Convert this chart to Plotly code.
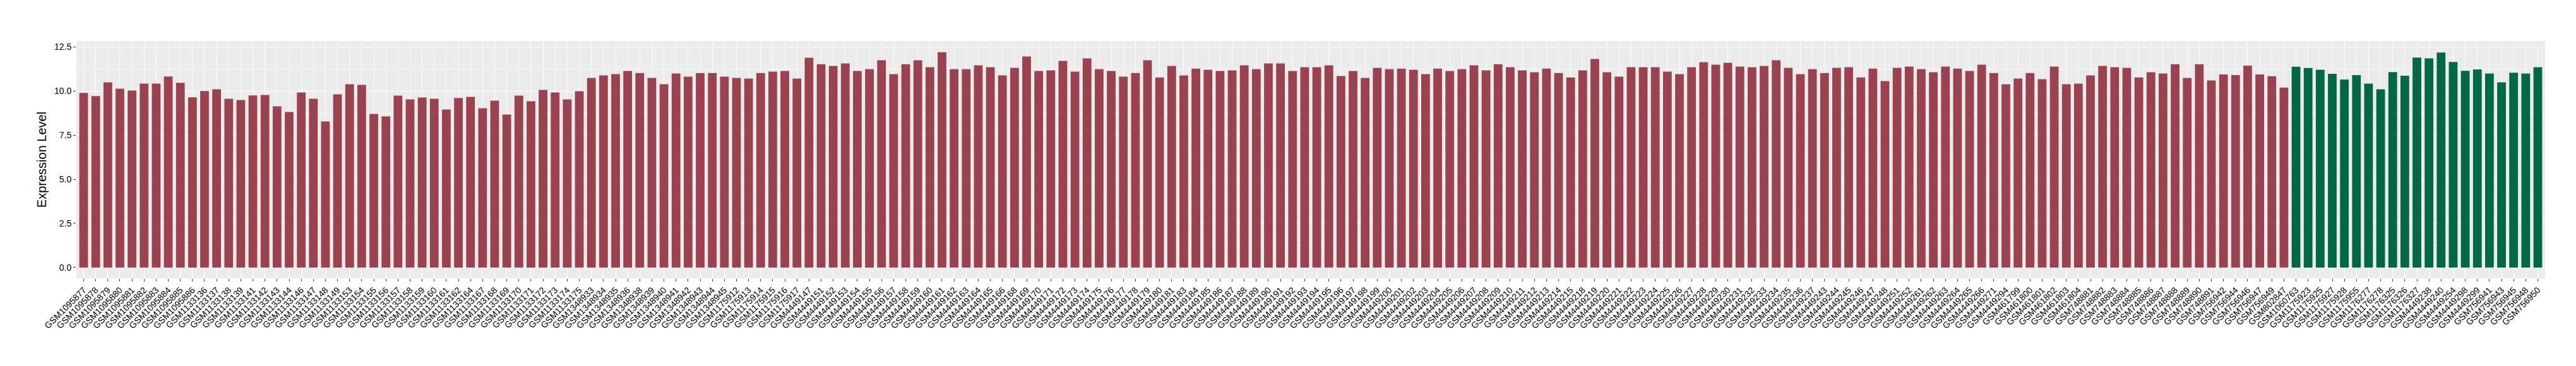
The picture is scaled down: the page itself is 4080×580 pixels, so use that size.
import plotly.graph_objects as go

# ---------------- data ----------------
red_samples = [
    "GSM1095877", "GSM1095878", "GSM1095879", "GSM1095880", "GSM1095881", "GSM1095882", "GSM1095883", "GSM1095884", "GSM1095885", "GSM1095886",
    "GSM1133136", "GSM1133137", "GSM1133138", "GSM1133139", "GSM1133141", "GSM1133142", "GSM1133143", "GSM1133144", "GSM1133146", "GSM1133147",
    "GSM1133148", "GSM1133149", "GSM1133153", "GSM1133154", "GSM1133155", "GSM1133156", "GSM1133157", "GSM1133158", "GSM1133159", "GSM1133160",
    "GSM1133161", "GSM1133162", "GSM1133164", "GSM1133167", "GSM1133168", "GSM1133169", "GSM1133170", "GSM1133171", "GSM1133172", "GSM1133173",
    "GSM1133174", "GSM1133175",
    "GSM1348933", "GSM1348934", "GSM1348935", "GSM1348936", "GSM1348938", "GSM1348939", "GSM1348940", "GSM1348941", "GSM1348942", "GSM1348943",
    "GSM1348944", "GSM1348945",
    "GSM1175912", "GSM1175913", "GSM1175914", "GSM1175915", "GSM1175916", "GSM1175917",
    "GSM4449147", "GSM4449151", "GSM4449152", "GSM4449153",
    "GSM4449154", "GSM4449155", "GSM4449156", "GSM4449157", "GSM4449158", "GSM4449159", "GSM4449160", "GSM4449161", "GSM4449162", "GSM4449163",
    "GSM4449164", "GSM4449165", "GSM4449166",
    "GSM4449168", "GSM4449169", "GSM4449170", "GSM4449171", "GSM4449172", "GSM4449173", "GSM4449174", "GSM4449175", "GSM4449176", "GSM4449177",
    "GSM4449178", "GSM4449179", "GSM4449180", "GSM4449181",
    "GSM4449183", "GSM4449184", "GSM4449185", "GSM4449186", "GSM4449187", "GSM4449188", "GSM4449189", "GSM4449190", "GSM4449191", "GSM4449192",
    "GSM4449193", "GSM4449194", "GSM4449195", "GSM4449196", "GSM4449197", "GSM4449198", "GSM4449199", "GSM4449200", "GSM4449201", "GSM4449202",
    "GSM4449203", "GSM4449204", "GSM4449205",
    "GSM4449206", "GSM4449207", "GSM4449208", "GSM4449209", "GSM4449210", "GSM4449211", "GSM4449212", "GSM4449213", "GSM4449214", "GSM4449215",
    "GSM4449218", "GSM4449219", "GSM4449220", "GSM4449221", "GSM4449222", "GSM4449223", "GSM4449224", "GSM4449225", "GSM4449226", "GSM4449227",
    "GSM4449228", "GSM4449229", "GSM4449230", "GSM4449231", "GSM4449232",
    "GSM4449233", "GSM4449234", "GSM4449235", "GSM4449236", "GSM4449237",
    "GSM4449243", "GSM4449244", "GSM4449245", "GSM4449246", "GSM4449247", "GSM4449248", "GSM4449251", "GSM4449252", "GSM4449261", "GSM4449262",
    "GSM4449263", "GSM4449264", "GSM4449265", "GSM4449266", "GSM4449271", "GSM4449294",
    "GSM461799", "GSM461800", "GSM461801", "GSM461802", "GSM461803", "GSM461804",
    "GSM748881", "GSM748882", "GSM748883", "GSM748884", "GSM748885", "GSM748886", "GSM748887", "GSM748888", "GSM748889", "GSM748890",
    "GSM748891",
    "GSM756942", "GSM756944", "GSM756946", "GSM756947", "GSM756949",
    "GSM802847",
]

red_values = [
    9.89, 9.71, 10.49, 10.13, 10.02, 10.42, 10.42, 10.82, 10.46, 9.64,
    10.00, 10.10, 9.56, 9.49, 9.75, 9.77, 9.13, 8.81, 9.92, 9.56,
    8.27, 9.81, 10.38, 10.35, 8.70, 8.56, 9.74, 9.52, 9.63, 9.56,
    8.95, 9.60, 9.67, 9.02, 9.45, 8.67, 9.74, 9.42, 10.06, 9.92,
    9.52, 9.99,
    10.74, 10.88, 10.95, 11.13, 11.02, 10.74, 10.38, 10.99, 10.81, 11.02,
    11.02, 10.81,
    10.74, 10.70, 11.02, 11.10, 11.13, 10.70,
    11.88, 11.52, 11.42, 11.56,
    11.13, 11.24, 11.74, 10.95, 11.52, 11.74, 11.35, 12.20, 11.24, 11.24,
    11.45, 11.35, 10.88,
    11.31, 11.95, 11.13, 11.17, 11.70, 11.10, 11.85, 11.24, 11.13, 10.81,
    11.02, 11.74, 10.77, 11.42,
    10.88, 11.27, 11.20, 11.13, 11.17, 11.45, 11.24, 11.56, 11.56, 11.13,
    11.35, 11.35, 11.45, 10.85, 11.13, 10.74, 11.31, 11.24, 11.27, 11.20,
    10.95, 11.27, 11.13,
    11.24, 11.45, 11.17, 11.52, 11.35, 11.17, 11.06, 11.27, 11.02, 10.77,
    11.17, 11.81, 11.06, 10.81, 11.35, 11.35, 11.35, 11.10, 10.95, 11.35,
    11.63, 11.49, 11.60, 11.38, 11.35,
    11.42, 11.74, 11.31, 10.95, 11.24,
    11.02, 11.31, 11.35, 10.77, 11.27, 10.56, 11.31, 11.38, 11.24, 11.06,
    11.38, 11.27, 11.13, 11.49, 11.02, 10.38,
    10.70, 11.02, 10.67, 11.38, 10.38, 10.42,
    10.88, 11.42, 11.35, 11.31, 10.77, 11.06, 10.99, 11.52, 10.74, 11.52,
    10.60,
    10.94, 10.90, 11.44, 10.94, 10.84,
    10.19,
]

green_samples = [
    "GSM1060763", "GSM1175923", "GSM1175925", "GSM1175927", "GSM1175928", "GSM1175955",
    "GSM1176277", "GSM1176278", "GSM1176325", "GSM1176326", "GSM1176327",
    "GSM4449238", "GSM4449240", "GSM4449254", "GSM4449298", "GSM4449299",
    "GSM756941", "GSM756943", "GSM756945", "GSM756948", "GSM756950",
]

green_values = [
    11.37, 11.30, 11.20, 10.97, 10.65, 10.90,
    10.42, 10.10, 11.07, 10.86, 11.89,
    11.85, 12.18, 11.64, 11.14, 11.22,
    10.99, 10.49, 11.03, 10.99, 11.35,
]

y_tick_values = [0.0, 2.5, 5.0, 7.5, 10.0, 12.5]
y_minor_values = [1.25, 3.75, 6.25, 8.75, 11.25]

all_samples = red_samples + green_samples

# ---------------- figure ----------------
FONT = "Liberation Sans, Arial, Helvetica, sans-serif"
RED = "#9B4251"
GREEN = "#006846"

fig = go.Figure()
fig.add_trace(go.Bar(x=red_samples, y=red_values, marker=dict(color=RED, line=dict(width=0)),
                     width=0.72, name="red", hoverinfo="x+y"))
fig.add_trace(go.Bar(x=green_samples, y=green_values, marker=dict(color=GREEN, line=dict(width=0)),
                     width=0.72, name="green", hoverinfo="x+y"))

n = len(all_samples)
fig.update_layout(
    width=4080, height=580,
    margin=dict(l=113, r=57, t=57, b=147, autoexpand=False),
    paper_bgcolor="white",
    plot_bgcolor="#EBEBEB",
    showlegend=False,
    barmode="overlay",
    font=dict(family=FONT, color="black"),
)

fig.update_xaxes(
    type="category",
    categoryorder="array", categoryarray=all_samples,
    tickmode="array", tickvals=all_samples, ticktext=all_samples,
    range=[-0.6, n - 1 + 0.6],
    showgrid=True, gridcolor="white", gridwidth=1.1,
    ticks="outside", ticklen=4, tickwidth=1, tickcolor="#333333",
    tickangle=-45,
    tickfont=dict(family=FONT, size=14, color="black"),
    showline=False, zeroline=False, automargin=False,
)

fig.update_yaxes(
    range=[-0.61, 12.83],
    tickmode="array", tickvals=y_tick_values,
    ticktext=[f"{v:.1f}" for v in y_tick_values],
    showgrid=True, gridcolor="white", gridwidth=1.1,
    minor=dict(tickmode="array", tickvals=y_minor_values, showgrid=True,
               gridcolor="white", gridwidth=0.5, ticks=""),
    ticks="outside", ticklen=4, tickwidth=1, tickcolor="#333333",
    tickfont=dict(family=FONT, size=14, color="black"),
    title=dict(text="Expression Level", font=dict(family=FONT, size=20, color="black"), standoff=6),
    showline=False, zeroline=False, automargin=False,
)

fig.write_html("out.html")
